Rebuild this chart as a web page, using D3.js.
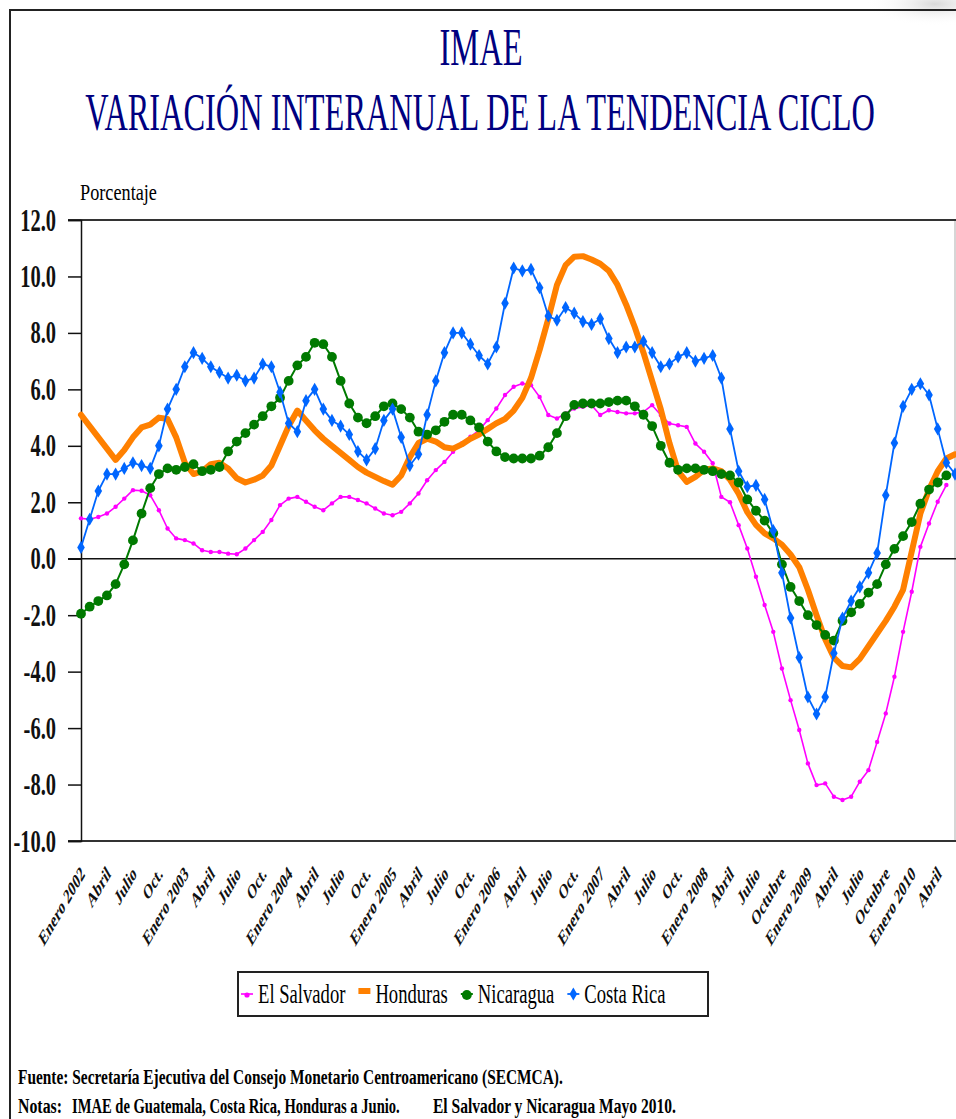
<!DOCTYPE html>
<html>
<head>
<meta charset="utf-8">
<script src="https://cdn.jsdelivr.net/npm/d3@7"></script>
<style>
  html, body { margin: 0; padding: 0; background: #fff; }
  svg { display: block; }
</style>
</head>
<body>
<div id="chart"></div>
<script>
// x axis labels, one every 3 months starting Jan 2002
const tickLabels = [
  "Enero 2002", "Abril", "Julio", "Oct.",
  "Enero 2003", "Abril", "Julio", "Oct.",
  "Enero 2004", "Abril", "Julio", "Oct.",
  "Enero 2005", "Abril", "Julio", "Oct.",
  "Enero 2006", "Abril", "Julio", "Oct.",
  "Enero 2007", "Abril", "Julio", "Oct.",
  "Enero 2008", "Abril", "Julio", "Octubre",
  "Enero 2009", "Abril", "Julio", "Octubre",
  "Enero 2010", "Abril"
];

// monthly values, Jan 2002 onward (El Salvador / Nicaragua to May 2010, others to June)
const elSalvador = [
  1.43, 1.4, 1.48, 1.6, 1.84, 2.13, 2.43, 2.41, 2.25, 1.72, 1.07, 0.72, 0.66, 0.54, 0.3, 0.24, 0.24, 0.18, 0.16, 0.36, 0.66, 0.95, 1.37, 1.9, 2.13, 2.19,
  2.02, 1.84, 1.72, 1.96, 2.19, 2.19, 2.08, 1.96, 1.78, 1.6, 1.54, 1.66, 1.96, 2.31, 2.78, 3.14, 3.43, 3.79, 4.08, 4.32, 4.56, 4.91, 5.32,
  5.8, 6.09, 6.21, 6.15, 5.73, 5.09, 4.97, 5.15, 5.32, 5.38, 5.44, 5.09, 5.26, 5.2, 5.15, 5.15, 5.2, 5.44, 5.09, 4.79, 4.73, 4.67, 4.08, 3.79, 3.38, 2.19, 2.0, 1.19,
  0.36, -0.64, -1.64, -2.59, -3.89, -5.01, -6.07, -7.25, -8.02, -7.96, -8.43, -8.55, -8.43, -7.9, -7.49, -6.49, -5.48, -4.18, -2.59, -1.17, 0.42, 1.25, 2.02, 2.61
];
const honduras = [
  5.1, 4.7, 4.3, 3.9, 3.5, 3.85, 4.3, 4.65, 4.75, 5.0, 4.95, 4.3, 3.4, 3.0, 3.1, 3.35, 3.4, 3.2, 2.85, 2.7, 2.8, 2.95, 3.3, 4.0, 4.7, 5.25,
  4.9, 4.55, 4.25, 4.0, 3.75, 3.5, 3.25, 3.05, 2.9, 2.75, 2.62, 2.95, 3.6, 4.1, 4.25, 4.15, 3.95, 3.9, 4.05, 4.25, 4.4, 4.6, 4.8,
  4.95, 5.25, 5.7, 6.4, 7.4, 8.5, 9.7, 10.4, 10.7, 10.72, 10.6, 10.45, 10.2, 9.7, 9.0, 8.2, 7.3, 6.3, 5.3, 4.1, 3.1, 2.72, 2.9, 3.15, 3.2, 3.1, 2.8, 2.3,
  1.65, 1.2, 0.9, 0.72, 0.5, 0.15, -0.3, -1.1, -2.0, -2.85, -3.5, -3.8, -3.85, -3.55, -3.1, -2.65, -2.2, -1.7, -1.1, 0.25, 1.6, 2.45, 3.1, 3.55, 3.7
];
const nicaragua = [
  -1.95, -1.7, -1.5, -1.3, -0.9, -0.2, 0.65, 1.6, 2.5, 3.0, 3.2, 3.15, 3.25, 3.35, 3.1, 3.15, 3.25, 3.8, 4.15, 4.45, 4.75, 5.05, 5.4, 5.7, 6.3, 6.85,
  7.15, 7.65, 7.6, 7.15, 6.3, 5.5, 5.0, 4.8, 5.05, 5.4, 5.5, 5.3, 5.0, 4.5, 4.4, 4.55, 4.85, 5.1, 5.1, 4.9, 4.65, 4.15, 3.8,
  3.6, 3.55, 3.55, 3.55, 3.65, 3.95, 4.45, 5.05, 5.45, 5.5, 5.5, 5.5, 5.55, 5.6, 5.6, 5.4, 5.1, 4.7, 4.0, 3.4, 3.15, 3.2, 3.2, 3.15, 3.1, 3.0, 2.95, 2.7,
  2.1, 1.7, 1.35, 0.9, -0.2, -1.0, -1.5, -2.0, -2.35, -2.7, -2.9, -2.2, -1.9, -1.6, -1.2, -0.9, -0.2, 0.35, 0.8, 1.3, 1.95, 2.45, 2.7, 2.95
];
const costaRica = [
  0.4, 1.4, 2.4, 3.0, 3.0, 3.2, 3.4, 3.3, 3.2, 4.0, 5.3, 6.0, 6.8, 7.3, 7.1, 6.8, 6.6, 6.4, 6.5, 6.3, 6.4, 6.9, 6.8, 5.9, 4.8, 4.5,
  5.6, 6.0, 5.3, 4.9, 4.7, 4.4, 3.8, 3.5, 3.9, 4.9, 5.3, 4.3, 3.3, 3.7, 5.1, 6.3, 7.3, 8.0, 8.0, 7.6, 7.2, 6.9, 7.5,
  9.05, 10.3, 10.2, 10.25, 9.6, 8.6, 8.45, 8.9, 8.7, 8.4, 8.3, 8.5, 7.8, 7.3, 7.5, 7.5, 7.7, 7.3, 6.8, 6.9, 7.15, 7.3, 7.0, 7.1, 7.2, 6.4, 4.6, 3.1,
  2.55, 2.6, 2.1, 1.0, -0.5, -2.1, -3.5, -4.9, -5.5, -4.9, -3.35, -2.1, -1.5, -1.0, -0.5, 0.2, 2.25, 4.1, 5.4, 6.0, 6.2, 5.8, 4.6, 3.4, 3.0
];

const seriesNames = ["El Salvador", "Honduras", "Nicaragua", "Costa Rica"];

const series = [
  {name: seriesNames[0], values: elSalvador, color: "#ff00ff", width: 1.6, marker: "dot"},
  {name: seriesNames[1], values: honduras, color: "#ff8000", width: 6, marker: null},
  {name: seriesNames[2], values: nicaragua, color: "#007a00", width: 2, marker: "circle"},
  {name: seriesNames[3], values: costaRica, color: "#0066ff", width: 1.8, marker: "diamond"}
];

const width = 956, height = 1119;
const serif = "'Liberation Serif', 'Times New Roman', serif";

const svg = d3.select("#chart").append("svg")
    .attr("width", width)
    .attr("height", height)
    .attr("viewBox", [0, 0, width, height]);

// soft gray corner (slide background)
const grad = svg.append("defs").append("radialGradient").attr("id", "corner");
grad.append("stop").attr("offset", "0%").attr("stop-color", "#d8d8d8");
grad.append("stop").attr("offset", "100%").attr("stop-color", "#fff").attr("stop-opacity", 0);
svg.append("ellipse").attr("cx", 935).attr("cy", 4).attr("rx", 70).attr("ry", 22).attr("fill", "url(#corner)");

// outer frame
svg.append("path")
    .attr("d", "M10,1119V10H956")
    .attr("fill", "none")
    .attr("stroke", "#222")
    .attr("stroke-width", 2);

// text squeezed horizontally to a target width
function fitText(parent, str, x, y, targetWidth, size, opts = {}) {
  const g = parent.append("g").attr("transform", `translate(${x},${y})`);
  const t = g.append("text")
      .attr("font-family", serif)
      .attr("font-size", size)
      .attr("font-weight", opts.weight || "normal")
      .attr("fill", opts.fill || "#000")
      .attr("text-anchor", opts.anchor || "start")
      .style("white-space", "pre")
      .text(str);
  const len = t.node().getComputedTextLength();
  t.attr("transform", `scale(${targetWidth / len},1)`);
  return g;
}

fitText(svg, "IMAE", 481, 65, 83, 52, {anchor: "middle", fill: "#000080"});
fitText(svg, "VARIACIÓN INTERANUAL DE LA TENDENCIA CICLO", 480, 130, 790, 52, {anchor: "middle", fill: "#000080"});
fitText(svg, "Porcentaje", 80, 200, 77, 23);

// scales
const plotL = 81, plotR = 955, plotT = 220, plotB = 841;
const x = d3.scaleLinear().domain([0, 101]).range([plotL, plotR]);
const y = d3.scaleLinear().domain([-10, 12]).range([plotB, plotT]);

// plot frame
svg.append("line").attr("x1", plotR).attr("x2", plotR).attr("y1", plotT).attr("y2", plotB)
    .attr("stroke", "#c8c8c8").attr("stroke-width", 1.5);
[12, -10, 0].forEach(v => {
  svg.append("line")
      .attr("x1", plotL - 13).attr("x2", width)
      .attr("y1", y(v)).attr("y2", y(v))
      .attr("stroke", v === 0 ? "#111" : "#333")
      .attr("stroke-width", v === 0 ? 1.6 : 2);
});

// y axis
const yAxis = svg.append("g")
    .attr("transform", `translate(${plotL},0)`)
    .call(d3.axisLeft(y)
      .tickValues(d3.range(-10, 12.1, 2))
      .tickSize(13)
      .tickFormat(d => d.toFixed(1)));
yAxis.select(".domain").attr("stroke", "#111").attr("stroke-width", 1.5);
yAxis.selectAll(".tick line").attr("stroke", "#111").attr("stroke-width", 1.5);
yAxis.selectAll(".tick text")
    .attr("x", 0).attr("dy", null)
    .attr("transform", "translate(-25,10) scale(0.66,1)")
    .attr("font-family", serif)
    .attr("font-size", 31)
    .attr("font-weight", "bold")
    .attr("fill", "#111");

// x axis
const xAxis = svg.append("g")
    .attr("transform", `translate(0,${plotB})`)
    .call(d3.axisBottom(x)
      .tickValues(d3.range(0, 102, 3))
      .tickSize(0)
      .tickFormat((d, i) => tickLabels[i]));
xAxis.select(".domain").remove();
xAxis.selectAll(".tick text")
    .attr("x", 0).attr("y", 0).attr("dy", null)
    .attr("text-anchor", "end")
    .attr("transform", "translate(4,34) scale(0.58,1) rotate(-45)")
    .attr("font-family", serif)
    .attr("font-size", 21)
    .attr("font-weight", "bold")
    .attr("fill", "#111");

// lines
const line = d3.line().x((d, i) => x(i)).y(d => y(d));
const diamond = d3.symbol().type(d3.symbolDiamond).size(50);

series.forEach(s => {
  const g = svg.append("g");
  g.append("path")
      .attr("d", line(s.values))
      .attr("fill", "none")
      .attr("stroke", s.color)
      .attr("stroke-width", s.width)
      .attr("stroke-linejoin", "round")
      .attr("stroke-linecap", "round");
  if (s.marker === "diamond") {
    g.selectAll("path.m").data(s.values).join("path")
        .attr("class", "m")
        .attr("d", diamond)
        .attr("transform", (d, i) => `translate(${x(i)},${y(d)})`)
        .attr("fill", s.color);
  } else if (s.marker) {
    g.selectAll("circle").data(s.values).join("circle")
        .attr("cx", (d, i) => x(i))
        .attr("cy", d => y(d))
        .attr("r", s.marker === "circle" ? 4.9 : 2.2)
        .attr("fill", s.color);
  }
});

// legend
const legend = svg.append("g");
legend.append("rect")
    .attr("x", 238).attr("y", 972).attr("width", 470).attr("height", 44)
    .attr("fill", "#fff").attr("stroke", "#222").attr("stroke-width", 2);

let lx = 247;
series.forEach(s => {
  const item = legend.append("g");
  if (s.marker === null) {
    item.append("line").attr("x1", lx - 6).attr("x2", lx + 6).attr("y1", 991).attr("y2", 991)
        .attr("stroke", s.color).attr("stroke-width", 6);
  } else {
    item.append("line").attr("x1", lx - 6).attr("x2", lx + 6).attr("y1", 994).attr("y2", 994)
        .attr("stroke", s.color).attr("stroke-width", s.width);
    if (s.marker === "diamond") {
      item.append("path").attr("d", diamond).attr("transform", `translate(${lx},994)`).attr("fill", s.color);
    } else {
      item.append("circle").attr("cx", lx).attr("cy", 995).attr("r", s.marker === "circle" ? 4.9 : 2.6).attr("fill", s.color);
    }
  }
  const t = item.append("text")
      .attr("font-family", serif)
      .attr("font-size", 27)
      .attr("fill", "#000")
      .attr("transform", `translate(${lx + 11},1003) scale(0.69,1)`)
      .text(s.name);
  lx += 11 + t.node().getComputedTextLength() * 0.69 + 19;
});

// notes
fitText(svg, "Fuente: Secretaría Ejecutiva del Consejo Monetario Centroamericano (SECMCA).", 18, 1084, 545, 21, {weight: "bold"});
fitText(svg, "Notas:", 18, 1113, 44, 21, {weight: "bold"});
fitText(svg, "IMAE de Guatemala, Costa Rica, Honduras a Junio.", 72, 1113, 328, 21, {weight: "bold"});
fitText(svg, "El Salvador y Nicaragua Mayo 2010.", 433, 1113, 243, 21, {weight: "bold"});
</script>
</body>
</html>
